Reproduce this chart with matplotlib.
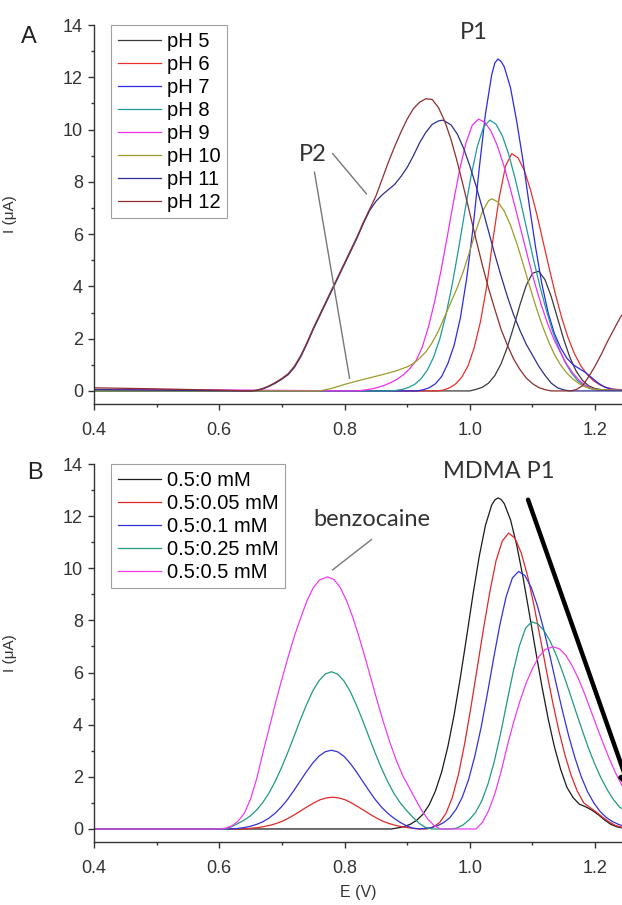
import matplotlib
matplotlib.use('Agg')
import matplotlib.pyplot as plt
from matplotlib.ticker import MultipleLocator

plt.rcParams['font.family'] = ['Liberation Sans', 'DejaVu Sans']

# ---------------- panel A : pH study ----------------
ph5_E = [0.40, 1.00, 1.01, 1.02, 1.03, 1.04, 1.05, 1.06, 1.07, 1.08, 1.09, 1.10, 1.11, 1.12, 1.13,
         1.14, 1.15, 1.16, 1.17, 1.18, 1.19, 1.20, 1.21, 1.22, 1.243]
ph5_I = [0.0, 0.0, 0.06, 0.14, 0.30, 0.59, 1.04, 1.68, 2.45, 3.29, 4.03, 4.50, 4.58, 4.26, 3.61,
         2.79, 1.97, 1.27, 0.75, 0.40, 0.19, 0.09, 0.05, 0.03, 0.02]

ph6_E = [0.40, 0.947, 0.957, 0.967, 0.977, 0.987, 0.997, 1.007, 1.017, 1.027, 1.037, 1.047, 1.057, 1.067,
         1.077, 1.087, 1.097, 1.107, 1.117, 1.127, 1.137, 1.147, 1.157, 1.167, 1.177, 1.187, 1.197, 1.207,
         1.217, 1.227, 1.243]
ph6_I = [0.0, 0.0, 0.03, 0.11, 0.26, 0.52, 0.95, 1.65, 2.65, 4.0, 5.8, 7.4, 8.6, 9.08,
         8.92, 8.44, 7.69, 6.76, 5.71, 4.67, 3.67, 2.78, 2.03, 1.43, 0.97, 0.64, 0.40, 0.24,
         0.14, 0.08, 0.04]

ph7_E = [0.40, 0.915, 0.925, 0.935, 0.945, 0.955, 0.965, 0.975, 0.985, 0.995, 1.005, 1.015, 1.025, 1.035,
         1.040, 1.045, 1.050, 1.055, 1.065, 1.075, 1.085, 1.095, 1.105, 1.115, 1.125, 1.135, 1.145, 1.155,
         1.165, 1.175, 1.185, 1.195, 1.205, 1.215, 1.225, 1.243]
ph7_I = [0.0, 0.0, 0.04, 0.12, 0.27, 0.55, 1.05, 1.75, 2.8, 4.3, 6.2, 8.5, 10.6, 12.1,
         12.55, 12.7, 12.6, 12.4, 11.6, 10.3, 8.8, 7.1, 5.5, 4.1, 3.0, 2.2, 1.65, 1.25,
         1.0, 0.85, 0.7, 0.5, 0.3, 0.15, 0.07, 0.02]

ph8_E = [0.40, 0.872, 0.882, 0.892, 0.902, 0.912, 0.922, 0.932, 0.942, 0.952, 0.962, 0.972, 0.982, 0.992,
         1.002, 1.012, 1.022, 1.032, 1.042, 1.052, 1.062, 1.072, 1.082, 1.092, 1.102, 1.112, 1.122, 1.132,
         1.142, 1.152, 1.162, 1.172, 1.182, 1.192, 1.202, 1.243]
ph8_I = [0.0, 0.0, 0.02, 0.06, 0.13, 0.25, 0.46, 0.79, 1.28, 1.98, 2.92, 4.08, 5.43, 6.86,
         8.22, 9.35, 10.1, 10.36, 10.2, 9.76, 9.06, 8.16, 7.15, 6.07, 5.0, 4.0, 3.1, 2.3,
         1.65, 1.1, 0.7, 0.4, 0.2, 0.09, 0.04, 0.02]

ph9_E = [0.40, 0.60, 0.814, 0.824, 0.834, 0.844, 0.854, 0.864, 0.874, 0.884, 0.894, 0.904, 0.914, 0.924,
         0.934, 0.944, 0.954, 0.964, 0.974, 0.984, 0.994, 1.004, 1.014, 1.024, 1.034, 1.044, 1.054, 1.064,
         1.074, 1.084, 1.094, 1.104, 1.114, 1.124, 1.134, 1.144, 1.154, 1.164, 1.174, 1.184, 1.194, 1.204,
         1.243]
ph9_I = [0.06, 0.04, 0.0, 0.01, 0.04, 0.08, 0.14, 0.22, 0.32, 0.45, 0.62, 0.85, 1.15, 1.67,
         2.45, 3.43, 4.6, 5.9, 7.24, 8.49, 9.5, 10.17, 10.4, 10.28, 9.93, 9.38, 8.65, 7.8,
         6.88, 5.93, 4.99, 4.1, 3.3, 2.59, 1.99, 1.5, 1.05, 0.7, 0.42, 0.22, 0.1, 0.04,
         0.02]

ph10_E = [0.40, 0.76, 0.78, 0.80, 0.82, 0.84, 0.86, 0.88, 0.90, 0.91, 0.92, 0.93, 0.94, 0.95,
          0.96, 0.97, 0.98, 0.99, 1.00, 1.01, 1.02, 1.03, 1.035, 1.045, 1.055, 1.065, 1.075, 1.085,
          1.095, 1.105, 1.115, 1.125, 1.135, 1.145, 1.155, 1.165, 1.175, 1.185, 1.20, 1.243]
ph10_I = [0.0, 0.0, 0.1, 0.25, 0.38, 0.5, 0.62, 0.75, 0.92, 1.05, 1.25, 1.5, 1.85, 2.3,
          2.85, 3.4, 3.95, 4.6, 5.35, 6.15, 6.85, 7.28, 7.35, 7.23, 6.88, 6.34, 5.65, 4.87,
          4.05, 3.27, 2.55, 1.93, 1.4, 0.99, 0.68, 0.45, 0.27, 0.15, 0.06, 0.02]

ph11_E = [0.40, 0.65, 0.66, 0.67, 0.68, 0.69, 0.70, 0.71, 0.72, 0.73, 0.74, 0.75, 0.76, 0.77,
          0.78, 0.79, 0.80, 0.81, 0.82, 0.83, 0.84, 0.85, 0.86, 0.87, 0.88, 0.89, 0.90, 0.91,
          0.92, 0.93, 0.94, 0.95, 0.957, 0.97, 0.98, 0.99, 1.00, 1.01, 1.02, 1.03, 1.04, 1.05,
          1.06, 1.07, 1.08, 1.09, 1.10, 1.11, 1.12, 1.13, 1.14, 1.15, 1.16, 1.243]
ph11_I = [0.05, 0.0, 0.02, 0.08, 0.18, 0.30, 0.45, 0.62, 0.90, 1.3, 1.8, 2.35, 2.85, 3.35,
          3.85, 4.35, 4.85, 5.35, 5.85, 6.4, 6.9, 7.25, 7.5, 7.7, 7.9, 8.2, 8.55, 9.0,
          9.5, 9.9, 10.2, 10.33, 10.36, 10.18, 9.83, 9.29, 8.61, 7.84, 6.99, 6.1, 5.22, 4.39,
          3.61, 2.91, 2.32, 1.79, 1.37, 0.95, 0.6, 0.3, 0.12, 0.04, 0.0, 0.0]

ph12_E = [0.40, 0.50, 0.60, 0.65, 0.66, 0.67, 0.68, 0.69, 0.70, 0.71, 0.72, 0.73, 0.74, 0.75,
          0.76, 0.77, 0.78, 0.79, 0.80, 0.81, 0.82, 0.83, 0.84, 0.85, 0.86, 0.87, 0.88, 0.89,
          0.90, 0.91, 0.92, 0.93, 0.94, 0.95, 0.96, 0.97, 0.98, 0.99, 1.00, 1.01, 1.02, 1.03,
          1.04, 1.05, 1.06, 1.07, 1.08, 1.09, 1.10, 1.11, 1.12, 1.13, 1.16, 1.17, 1.18, 1.19,
          1.20, 1.21, 1.22, 1.23, 1.24, 1.243]
ph12_I = [0.12, 0.08, 0.03, 0.0, 0.03, 0.1, 0.2, 0.33, 0.48, 0.66, 0.95, 1.35, 1.85, 2.4,
          2.9, 3.4, 3.9, 4.4, 4.9, 5.4, 5.9, 6.45, 6.95, 7.45, 8.1, 8.75, 9.35, 9.9,
          10.4, 10.8, 11.05, 11.18, 11.15, 10.84, 10.32, 9.62, 8.76, 7.8, 6.8, 5.79, 4.82, 3.92,
          3.12, 2.35, 1.75, 1.22, 0.82, 0.5, 0.28, 0.13, 0.05, 0.0, 0.0, 0.05, 0.2, 0.55,
          0.95, 1.4, 1.9, 2.35, 2.8, 2.9]

labels_A = ['pH 5', 'pH 6', 'pH 7', 'pH 8', 'pH 9', 'pH 10', 'pH 11', 'pH 12']
colors_A = ['#3a3a3a', '#e8302a', '#2a2ae8', '#1f9a9a', '#f030f0', '#9c9c2a', '#2e2e8c', '#8c2e2e']
curves_A = [(ph5_E, ph5_I), (ph6_E, ph6_I), (ph7_E, ph7_I), (ph8_E, ph8_I),
            (ph9_E, ph9_I), (ph10_E, ph10_I), (ph11_E, ph11_I), (ph12_E, ph12_I)]

# ---------------- panel B : MDMA + benzocaine ----------------
b0_E = [0.40, 0.875, 0.885, 0.895, 0.905, 0.915, 0.925, 0.935, 0.945, 0.955, 0.965, 0.975, 0.985, 0.995,
        1.005, 1.015, 1.025, 1.035, 1.040, 1.045, 1.050, 1.055, 1.065, 1.075, 1.085, 1.095, 1.105, 1.115,
        1.125, 1.135, 1.145, 1.155, 1.165, 1.175, 1.185, 1.195, 1.205, 1.215, 1.225, 1.235, 1.243]
b0_I = [0.0, 0.0, 0.04, 0.09, 0.18, 0.33, 0.56, 0.92, 1.45, 2.18, 3.16, 4.38, 5.82, 7.38,
        8.98, 10.45, 11.65, 12.43, 12.62, 12.7, 12.64, 12.48, 11.86, 10.88, 9.65, 8.27, 6.85, 5.49,
        4.24, 3.16, 2.29, 1.6, 1.2, 0.95, 0.85, 0.72, 0.55, 0.35, 0.18, 0.08, 0.04]

b005_E = [0.40, 0.64, 0.651, 0.661, 0.671, 0.681, 0.691, 0.701, 0.711, 0.721, 0.731, 0.741, 0.751, 0.761,
          0.771, 0.781, 0.791, 0.801, 0.811, 0.821, 0.831, 0.841, 0.851, 0.861, 0.871, 0.881, 0.891, 0.901,
          0.911, 0.921, 0.932, 0.942, 0.952, 0.962, 0.972, 0.982, 0.992, 1.002, 1.012, 1.022, 1.032, 1.042,
          1.052, 1.062, 1.072, 1.082, 1.092, 1.102, 1.112, 1.122, 1.132, 1.142, 1.152, 1.162, 1.172, 1.182,
          1.192, 1.202, 1.212, 1.222, 1.232, 1.243]
b005_I = [0.0, 0.0, 0.03, 0.05, 0.09, 0.14, 0.21, 0.30, 0.42, 0.56, 0.71, 0.86, 1.0, 1.12,
          1.19, 1.22, 1.19, 1.12, 1.0, 0.86, 0.71, 0.56, 0.42, 0.30, 0.21, 0.14, 0.09, 0.05,
          0.02, 0.0, 0.0, 0.08, 0.25, 0.6, 1.2, 2.1, 3.3, 4.7, 6.2, 7.7, 9.1, 10.3,
          11.05, 11.35, 11.16, 10.6, 9.73, 8.63, 7.39, 6.12, 4.9, 3.79, 2.83, 2.04, 1.43, 1.0,
          0.82, 0.65, 0.45, 0.28, 0.14, 0.06]

b01_E = [0.40, 0.62, 0.629, 0.639, 0.649, 0.659, 0.669, 0.679, 0.689, 0.699, 0.709, 0.719, 0.729, 0.739,
         0.749, 0.759, 0.769, 0.779, 0.789, 0.799, 0.809, 0.819, 0.829, 0.839, 0.849, 0.859, 0.869, 0.879,
         0.889, 0.899, 0.909, 0.919, 0.928, 0.938, 0.948, 0.958, 0.968, 0.978, 0.988, 0.998, 1.008, 1.018,
         1.028, 1.038, 1.048, 1.058, 1.068, 1.078, 1.088, 1.098, 1.108, 1.118, 1.128, 1.138, 1.148, 1.158,
         1.168, 1.178, 1.188, 1.198, 1.208, 1.218, 1.228, 1.238, 1.243]
b01_I = [0.0, 0.0, 0.02, 0.05, 0.1, 0.17, 0.27, 0.41, 0.6, 0.84, 1.13, 1.47, 1.83, 2.19,
         2.52, 2.79, 2.96, 3.02, 2.96, 2.79, 2.52, 2.19, 1.83, 1.47, 1.13, 0.84, 0.6, 0.41,
         0.25, 0.12, 0.03, 0.0, 0.02, 0.05, 0.12, 0.24, 0.43, 0.75, 1.22, 1.89, 2.79, 3.89,
         5.18, 6.54, 7.83, 8.91, 9.63, 9.88, 9.72, 9.27, 8.56, 7.66, 6.63, 5.56, 4.52, 3.56,
         2.72, 2.0, 1.43, 1.0, 0.67, 0.44, 0.28, 0.17, 0.13]

b025_E = [0.40, 0.61, 0.619, 0.629, 0.639, 0.649, 0.659, 0.669, 0.679, 0.689, 0.699, 0.709, 0.719, 0.729,
          0.739, 0.749, 0.759, 0.769, 0.779, 0.789, 0.799, 0.809, 0.819, 0.829, 0.839, 0.849, 0.859, 0.869,
          0.879, 0.889, 0.899, 0.909, 0.919, 0.929, 0.939, 0.969, 0.979, 0.989, 0.999, 1.009, 1.019, 1.029,
          1.039, 1.049, 1.059, 1.069, 1.079, 1.089, 1.099, 1.109, 1.119, 1.129, 1.139, 1.149, 1.159, 1.169,
          1.179, 1.189, 1.199, 1.209, 1.219, 1.229, 1.239, 1.243]
b025_I = [0.0, 0.0, 0.08, 0.2, 0.33, 0.49, 0.71, 1.0, 1.36, 1.81, 2.33, 2.91, 3.53, 4.16,
          4.75, 5.28, 5.68, 5.94, 6.03, 5.94, 5.68, 5.28, 4.75, 4.16, 3.53, 2.91, 2.33, 1.81,
          1.36, 1.0, 0.71, 0.45, 0.22, 0.06, 0.0, 0.0, 0.03, 0.15, 0.35, 0.63, 1.07, 1.72,
          2.58, 3.64, 4.83, 6.0, 7.01, 7.7, 7.95, 7.86, 7.59, 7.17, 6.61, 5.96, 5.26, 4.53,
          3.82, 3.13, 2.52, 1.98, 1.52, 1.14, 0.84, 0.78]

b05_E = [0.40, 0.60, 0.61, 0.62, 0.63, 0.64, 0.65, 0.66, 0.67, 0.68, 0.69, 0.70, 0.71, 0.72,
         0.73, 0.74, 0.75, 0.76, 0.773, 0.783, 0.793, 0.803, 0.813, 0.823, 0.833, 0.843, 0.853, 0.863,
         0.873, 0.883, 0.893, 0.903, 0.913, 0.923, 0.933, 0.943, 0.953, 1.01, 1.02, 1.03, 1.04, 1.05,
         1.06, 1.07, 1.08, 1.09, 1.10, 1.11, 1.12, 1.133, 1.143, 1.153, 1.163, 1.173, 1.183, 1.193,
         1.203, 1.213, 1.223, 1.233, 1.243]
b05_I = [0.0, 0.0, 0.03, 0.12, 0.3, 0.6, 1.15, 1.95, 2.95, 3.9, 4.85, 5.75, 6.6, 7.4,
         8.1, 8.75, 9.25, 9.55, 9.67, 9.57, 9.27, 8.77, 8.13, 7.38, 6.56, 5.7, 4.84, 4.03,
         3.28, 2.61, 2.04, 1.6, 1.15, 0.72, 0.38, 0.13, 0.0, 0.0, 0.25, 0.7, 1.35, 2.2,
         3.2, 4.1, 4.9, 5.6, 6.15, 6.6, 6.88, 6.99, 6.91, 6.67, 6.28, 5.79, 5.2, 4.56,
         3.91, 3.28, 2.68, 2.14, 1.67]

labels_B = ['0.5:0 mM', '0.5:0.05 mM', '0.5:0.1 mM', '0.5:0.25 mM', '0.5:0.5 mM']
colors_B = ['#1a1a1a', '#e02828', '#3232d8', '#209a80', '#f03cf0']
curves_B = [(b0_E, b0_I), (b005_E, b005_I), (b01_E, b01_I), (b025_E, b025_I), (b05_E, b05_I)]

# ---------------- figure ----------------
fig = plt.figure(figsize=(6.22, 9.05), dpi=100)
axA = fig.add_axes([94/622, 1-404/905, 1-94/622, (404-25)/905])
axB = fig.add_axes([94/622, 1-842/905, 1-94/622, (842-464)/905])

def style(ax):
    ax.set_xlim(0.4, 1.243)
    ax.set_ylim(-0.5, 14)
    ax.spines['top'].set_visible(False)
    ax.spines['right'].set_visible(False)
    for s in ('left', 'bottom'):
        ax.spines[s].set_color('#333333')
        ax.spines[s].set_linewidth(1.0)
    ax.xaxis.set_major_locator(MultipleLocator(0.2))
    ax.xaxis.set_minor_locator(MultipleLocator(0.1))
    ax.yaxis.set_major_locator(MultipleLocator(2))
    ax.yaxis.set_minor_locator(MultipleLocator(1))
    ax.xaxis.set_major_formatter(plt.FuncFormatter(lambda v, p: '%.1f' % v))
    ax.tick_params(which='major', direction='out', length=4, width=1, color='#333333',
                   labelsize=13, labelcolor='#333333', pad=4)
    ax.tick_params(axis='x', which='major', pad=9)
    ax.tick_params(which='minor', direction='out', length=2.5, width=1, color='#333333')
    ax.set_ylabel('I (μA)', fontsize=11, color='#333333')
    ax.yaxis.set_label_coords(-0.145, 0.5)

for (e, i), lab, c in zip(curves_A, labels_A, colors_A):
    axA.plot(e, i, color=c, lw=0.9, label=lab)
for (e, i), lab, c in zip(curves_B, labels_B, colors_B):
    axB.plot(e, i, color=c, lw=0.9, label=lab)

style(axA); style(axB)
axB.set_xlabel('E (V)', fontsize=11.5, color='#333333', labelpad=6)

for ax in (axA, axB):
    leg = ax.legend(loc='upper left', bbox_to_anchor=(0.032, 1.0), borderaxespad=0,
                    fontsize=14.5, frameon=True, fancybox=False, labelspacing=0.2,
                    handlelength=2.15, handletextpad=0.3, borderpad=0.33)
    leg.get_frame().set_edgecolor('#888888')
    leg.get_frame().set_linewidth(0.8)

# annotations (panel A)
ann = dict(fontsize=17, color='#333333', family=['Lato', 'DejaVu Sans'], ha='center', va='center')
axA.text(1.006, 13.73, 'P1', **ann)
axA.text(0.750, 9.04, 'P2', **ann)
axA.plot([0.781, 0.835], [9.08, 7.54], color='#777777', lw=1.0)
axA.plot([0.752, 0.808], [8.37, 0.49], color='#777777', lw=1.0)

# annotations (panel B)
axB.text(1.046, 13.71, 'MDMA P1', **ann)
axB.text(0.843, 11.87, 'benzocaine', **ann)
axB.plot([0.843, 0.781], [11.1, 9.94], color='#777777', lw=1.0)
axB.annotate('', xy=(1.256, 1.5), xytext=(1.093, 12.63), annotation_clip=False,
             arrowprops=dict(arrowstyle='-|>', lw=3.2, color='black', mutation_scale=18,
                             shrinkA=0, shrinkB=0))

fig.text(29/622, 1-37/905, 'A', fontsize=17, ha='center', va='center', color='#222222')
fig.text(35/622, 1-473/905, 'B', fontsize=17, ha='center', va='center', color='#222222')

fig.savefig('out.png', dpi=100)
